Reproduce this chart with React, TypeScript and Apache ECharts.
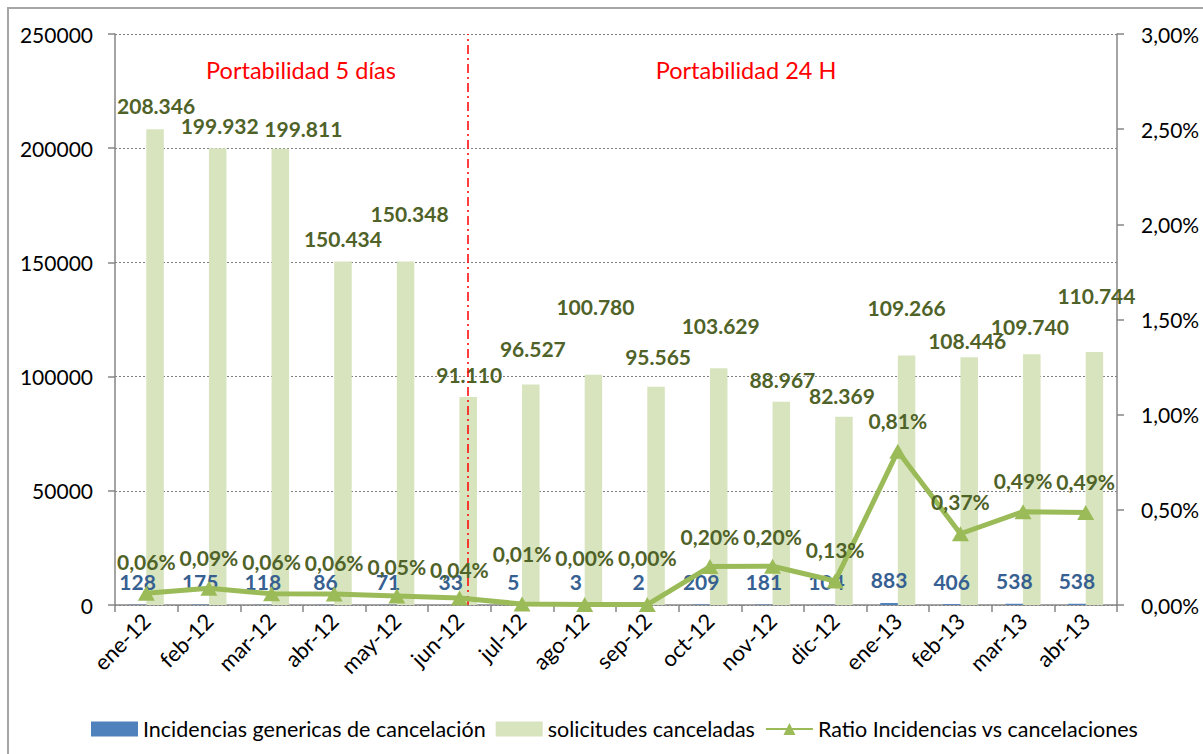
import React, { useEffect, useRef } from "react";
import * as echarts from "echarts";

const categories = ["ene-12", "feb-12", "mar-12", "abr-12", "may-12", "jun-12", "jul-12", "ago-12", "sep-12", "oct-12", "nov-12", "dic-12", "ene-13", "feb-13", "mar-13", "abr-13"];
const incidencias = [128, 175, 118, 86, 71, 33, 5, 3, 2, 209, 181, 104, 883, 406, 538, 538];
const solicitudes = [208346, 199932, 199811, 150434, 150348, 91110, 96527, 100780, 95565, 103629, 88967, 82369, 109266, 108446, 109740, 110744];
const ratioPct = [0.0614, 0.0875, 0.0591, 0.0572, 0.0472, 0.0362, 0.0052, 0.0030, 0.0021, 0.2017, 0.2034, 0.1263, 0.8081, 0.3744, 0.4903, 0.4858];
const leftTicks = { min: 0, max: 250000, interval: 50000 };
const rightTicks = { min: 0, max: 3, interval: 0.5 };

// label layout (pixels above mark), kept apart from the data
const solLabelLift = [24, 23, 20, 23, 48, 22, 36, 68, 30, 43, 22, 21, 48, 17, 28, 57];
const solLabelShift = [1, 2, 23, 0, 4, 1, 2, 2, 2, 2, 1, -2, 0, -2, -2, 2];
const ratioLabelLift = [32, 31, 32, 32, 30, 29, 51, 47, 47, 30, 30, 31, 31, 32, 31, 31];
const SPLIT_AT = 5.63; // position of the "portabilidad" divider, in category units

const FONT = "Lato, 'Open Sans', sans-serif";
const fmtThousands = (v: number) => String(v).replace(/\B(?=(\d{3})+(?!\d))/g, ".");
const fmtPct = (v: number) => v.toFixed(2).replace(".", ",") + "%";

export default function App() {
  const ref = useRef<HTMLDivElement>(null);
  useEffect(() => {
    if (!ref.current) return;
    const chart = echarts.init(ref.current, undefined, { renderer: "svg" });
    const axisGray = "#868686";
    const option: any = {
      animation: false,
      grid: { left: 115, right: 86, top: 34, bottom: 149, containLabel: false },
      legend: {
        left: 86,
        top: 713,
        itemWidth: 47,
        itemHeight: 15,
        itemGap: 10,
        textStyle: { fontFamily: FONT, fontSize: 21.5, color: "#000" },
        data: [
          { name: "Incidencias genericas de cancelación", icon: "rect" },
          { name: "solicitudes canceladas", icon: "rect" },
          { name: "Ratio Incidencias vs cancelaciones" },
        ],
      },
      xAxis: [
        {
          type: "category",
          data: categories,
          boundaryGap: true,
          axisLine: { lineStyle: { color: axisGray, width: 1.5 } },
          axisTick: { show: true, length: 7, interval: 0, lineStyle: { color: axisGray, width: 1.5 } },
          axisLabel: { rotate: 45, interval: 0, margin: 12, fontFamily: FONT, fontSize: 22, color: "#000" },
          splitLine: { show: false },
        },
        { type: "value", min: 0, max: 16, show: false },
      ],
      yAxis: [
        {
          type: "value",
          min: leftTicks.min,
          max: leftTicks.max,
          interval: leftTicks.interval,
          axisLine: { show: true, lineStyle: { color: axisGray, width: 1.5 } },
          axisTick: { show: true, length: 7, lineStyle: { color: axisGray, width: 1.5 } },
          axisLabel: { margin: 22, fontFamily: FONT, fontSize: 21, color: "#000", formatter: (v: number) => String(v) },
          splitLine: { show: true, lineStyle: { color: "#7f7f7f", type: [2, 2], width: 1 } },
        },
        {
          type: "value",
          position: "right",
          min: rightTicks.min,
          max: rightTicks.max,
          interval: rightTicks.interval,
          axisLine: { show: true, lineStyle: { color: axisGray, width: 1.5 } },
          axisTick: { show: true, length: 7, lineStyle: { color: axisGray, width: 1.5 } },
          axisLabel: { margin: 24, fontFamily: FONT, fontSize: 21, color: "#000", formatter: (v: number) => fmtPct(v) },
          splitLine: { show: false },
        },
      ],
      series: [
        {
          name: "Incidencias genericas de cancelación",
          type: "bar",
          data: incidencias,
          barWidth: 17.5,
          barGap: "0%",
          itemStyle: { color: "#4F81BD" },
          label: {
            show: true,
            position: "top",
            distance: 12,
            color: "#376092",
            fontWeight: "bold",
            fontFamily: FONT,
            fontSize: 21,
            lineHeight: 22,
          },
          z: 3,
        },
        {
          name: "solicitudes canceladas",
          type: "bar",
          barWidth: 17.5,
          barGap: "0%",
          data: solicitudes.map((v, i) => ({
            value: v,
            label: { offset: [solLabelShift[i], -(solLabelLift[i] - 11)] },
          })),
          itemStyle: { color: "#D7E4BD" },
          label: {
            show: true,
            position: "top",
            distance: 0,
            color: "#4F6228",
            fontWeight: "bold",
            fontFamily: FONT,
            fontSize: 21,
            lineHeight: 22,
            formatter: (p: any) => fmtThousands(p.value),
          },
          z: 2,
        },
        {
          name: "Ratio Incidencias vs cancelaciones",
          type: "line",
          yAxisIndex: 1,
          data: ratioPct.map((v, i) => ({
            value: v,
            label: { offset: [0, -(ratioLabelLift[i] - 18.5)] },
          })),
          symbol: "triangle",
          symbolSize: [17, 15],
          lineStyle: { color: "#9BBB59", width: 5 },
          itemStyle: { color: "#9BBB59" },
          label: {
            show: true,
            position: "top",
            distance: 0,
            color: "#4F6228",
            fontWeight: "bold",
            fontFamily: FONT,
            fontSize: 21,
            lineHeight: 22,
            formatter: (p: any) => fmtPct(p.value),
          },
          z: 5,
        },
        {
          name: "split",
          type: "line",
          xAxisIndex: 1,
          yAxisIndex: 0,
          data: [[SPLIT_AT, 0]],
          symbol: "none",
          silent: true,
          lineStyle: { width: 0 },
          markLine: {
            silent: true,
            symbol: "none",
            label: { show: false },
            lineStyle: { color: "#FF0000", width: 1.5, type: [9, 4, 2, 4] },
            data: [{ xAxis: SPLIT_AT }],
          },
          z: 4,
        },
      ],
      graphic: [
        {
          type: "rect",
          z: -10,
          shape: { x: 8, y: 8, width: 1400, height: 900 },
          style: { fill: "none", stroke: "#A6A6A6", lineWidth: 2 },
        },
        {
          type: "text",
          x: 301,
          y: 70,
          style: { text: "Portabilidad 5 días", fill: "#FF0000", fontFamily: FONT, fontSize: 23.5, align: "center", verticalAlign: "middle" },
        },
        {
          type: "text",
          x: 746,
          y: 70,
          style: { text: "Portabilidad 24 H", fill: "#FF0000", fontFamily: FONT, fontSize: 23.5, align: "center", verticalAlign: "middle" },
        },
      ],
    };
    chart.setOption(option);
    return () => chart.dispose();
  }, []);
  return <div ref={ref} style={{ position: "absolute", left: 0, top: 0, width: 1203, height: 754, background: "#fff" }} />;
}
